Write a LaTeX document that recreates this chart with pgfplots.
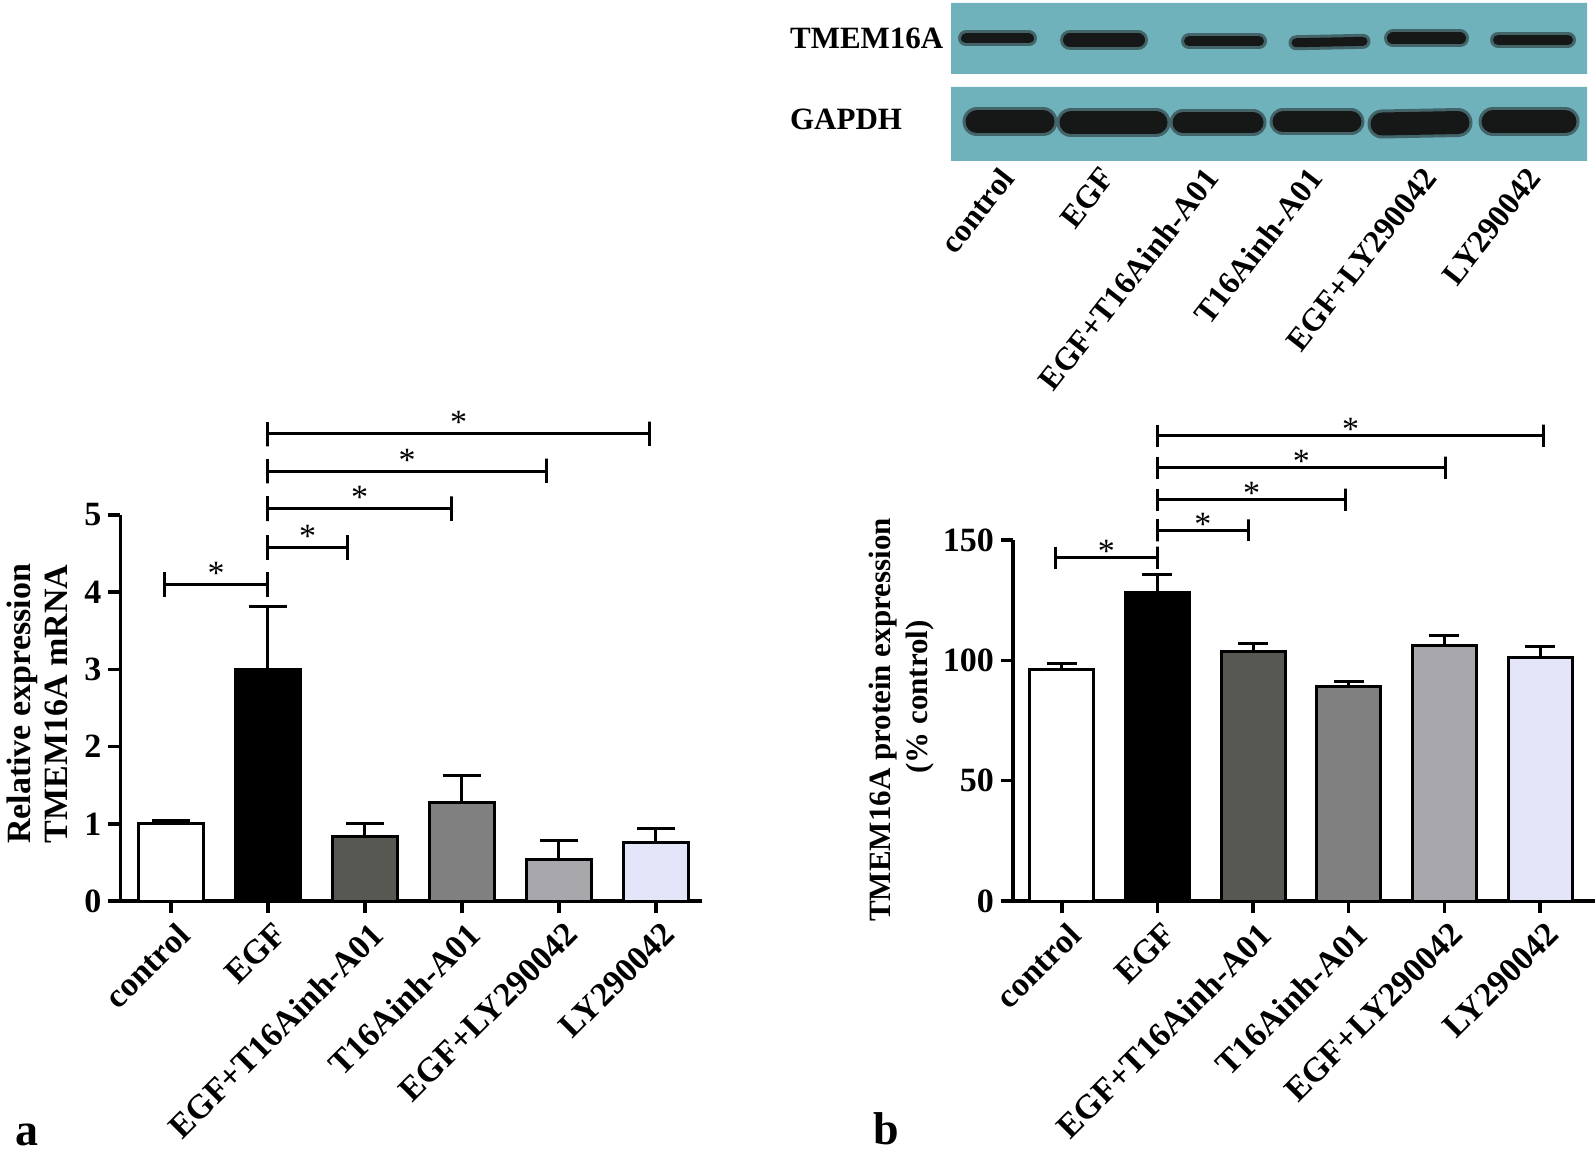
\documentclass[border=0pt]{standalone}
\usepackage{fontspec}
\setmainfont{Liberation Serif}
\usepackage{pgfplots}
\pgfplotsset{compat=1.18}
\usepackage{pgfplotstable}

\definecolor{cA}{RGB}{255,255,255}
\definecolor{cB}{RGB}{0,0,0}
\definecolor{cC}{RGB}{88,88,82}
\definecolor{cD}{RGB}{128,128,128}
\definecolor{cE}{RGB}{168,168,172}
\definecolor{cF}{RGB}{228,228,248}
\definecolor{blot}{RGB}{112,178,188}
\definecolor{band}{RGB}{22,24,24}

% panel a: x, mean, upper error
\pgfplotstableread{
x y e
0 1.01 0.03
1 3.00 0.81
2 0.84 0.17
3 1.27 0.35
4 0.54 0.24
5 0.76 0.18
}\dataA
% panel b
\pgfplotstableread{
x y e
0 96.0 2.5
1 128.3 7.2
2 103.7 3.3
3 89.2 2.1
4 106.0 4.3
5 101.3 4.4
}\dataB

\tikzset{ast/.style={anchor=base, font=\fontsize{17}{17}\selectfont, inner sep=0pt}}
\pgfplotsset{
  barpanel/.style={
    scale only axis, axis lines*=left,
    axis line style={line width=1.75pt, -},
    tick style={line width=1.75pt, black}, tick align=outside,
    major tick length=6pt,
    xtick={0,...,5},
    xticklabels={control,EGF,EGF+T16Ainh-A01,T16Ainh-A01,EGF+LY290042,LY290042},
    x tick label style={rotate=45, anchor=north east, font=\fontsize{17}{17}\selectfont\bfseries, inner sep=1pt, yshift=-3pt},
    y tick label style={font=\fontsize{17}{17}\selectfont\bfseries},
    /pgf/number format/assume math mode=true,
    clip=false,
  },
  brk/.style={sharp plot, line width=1.5pt, black, mark=none},
  abar/.style={ybar, bar width=32.5pt, bar shift=0pt, draw=black, line width=1.5pt,
    error bars/y dir=plus, error bars/y explicit,
    error bars/error bar style={line width=1.5pt, black},
    error bars/error mark options={line width=1.5pt, black, mark size=9.5pt, rotate=90}},
  bbar/.style={ybar, bar width=32pt, bar shift=0pt, draw=black, line width=1.5pt,
    error bars/y dir=plus, error bars/y explicit,
    error bars/error bar style={line width=1.5pt, black},
    error bars/error mark options={line width=1.5pt, black, mark size=7.5pt, rotate=90}},
}

\begin{document}
\begin{tikzpicture}
\useasboundingbox (0,0) rectangle (797.5pt,576.5pt);

% ---------------- panel a ----------------
\begin{axis}[barpanel, at={(60.25pt,126pt)}, anchor=south west,
  width=290.5pt, height=193pt, xmin=-0.52, xmax=5.47, ymin=0, ymax=5,
  ytick={0,1,2,3,4,5}]
\addplot[abar, fill=cA] table[x=x, y=y, y error=e, restrict expr to domain={\thisrow{x}}{0:0}] {\dataA};
\addplot[abar, fill=cB] table[x=x, y=y, y error=e, restrict expr to domain={\thisrow{x}}{1:1}] {\dataA};
\addplot[abar, fill=cC] table[x=x, y=y, y error=e, restrict expr to domain={\thisrow{x}}{2:2}] {\dataA};
\addplot[abar, fill=cD] table[x=x, y=y, y error=e, restrict expr to domain={\thisrow{x}}{3:3}] {\dataA};
\addplot[abar, fill=cE] table[x=x, y=y, y error=e, restrict expr to domain={\thisrow{x}}{4:4}] {\dataA};
\addplot[abar, fill=cF] table[x=x, y=y, y error=e, restrict expr to domain={\thisrow{x}}{5:5}] {\dataA};
% x axis stub left of the y axis
\addplot[sharp plot, line width=1.75pt, black] coordinates {(-0.62,0) (-0.52,0)};
% significance brackets
\addplot[brk] coordinates {(-0.07,4.26) (-0.07,3.94) (-0.07,4.10) (1,4.10) (1,4.26) (1,3.94)};
\addplot[brk] coordinates {(1,4.74) (1,4.42) (1,4.58) (1.82,4.58) (1.82,4.74) (1.82,4.42)};
\addplot[brk] coordinates {(1,5.24) (1,4.92) (1,5.08) (2.89,5.08) (2.89,5.24) (2.89,4.92)};
\addplot[brk] coordinates {(1,5.73) (1,5.41) (1,5.57) (3.87,5.57) (3.87,5.73) (3.87,5.41)};
\addplot[brk] coordinates {(1,6.21) (1,5.89) (1,6.05) (4.93,6.05) (4.93,6.21) (4.93,5.89)};
\node[ast] at (axis cs:0.465,4.10) {*};
\node[ast] at (axis cs:1.41,4.58) {*};
\node[ast] at (axis cs:1.945,5.08) {*};
\node[ast] at (axis cs:2.435,5.57) {*};
\node[ast] at (axis cs:2.965,6.05) {*};
\end{axis}

% ---------------- panel b ----------------
\begin{axis}[barpanel, at={(506.5pt,126pt)}, anchor=south west,
  width=291pt, height=180.5pt, xmin=-0.51, xmax=5.575, ymin=0, ymax=150,
  ytick={0,50,100,150}]
\addplot[bbar, fill=cA] table[x=x, y=y, y error=e, restrict expr to domain={\thisrow{x}}{0:0}] {\dataB};
\addplot[bbar, fill=cB] table[x=x, y=y, y error=e, restrict expr to domain={\thisrow{x}}{1:1}] {\dataB};
\addplot[bbar, fill=cC] table[x=x, y=y, y error=e, restrict expr to domain={\thisrow{x}}{2:2}] {\dataB};
\addplot[bbar, fill=cD] table[x=x, y=y, y error=e, restrict expr to domain={\thisrow{x}}{3:3}] {\dataB};
\addplot[bbar, fill=cE] table[x=x, y=y, y error=e, restrict expr to domain={\thisrow{x}}{4:4}] {\dataB};
\addplot[bbar, fill=cF] table[x=x, y=y, y error=e, restrict expr to domain={\thisrow{x}}{5:5}] {\dataB};
\addplot[sharp plot, line width=1.75pt, black] coordinates {(-0.61,0) (-0.51,0)};
\addplot[brk] coordinates {(-0.07,147.2) (-0.07,138.0) (-0.07,142.6) (1,142.6) (1,147.2) (1,138.0)};
\addplot[brk] coordinates {(1,158.6) (1,149.4) (1,154.0) (1.95,154.0) (1.95,158.6) (1.95,149.4)};
\addplot[brk] coordinates {(1,171.3) (1,162.1) (1,166.7) (2.97,166.7) (2.97,171.3) (2.97,162.1)};
\addplot[brk] coordinates {(1,184.6) (1,175.4) (1,180.0) (4.01,180.0) (4.01,184.6) (4.01,175.4)};
\addplot[brk] coordinates {(1,197.9) (1,188.7) (1,193.3) (5.04,193.3) (5.04,197.9) (5.04,188.7)};
\node[ast, yshift=-2.5pt] at (axis cs:0.465,142.6) {*};
\node[ast, yshift=-2.5pt] at (axis cs:1.475,154.0) {*};
\node[ast, yshift=-2.5pt] at (axis cs:1.985,166.7) {*};
\node[ast, yshift=-2.5pt] at (axis cs:2.505,180.0) {*};
\node[ast, yshift=-2.5pt] at (axis cs:3.02,193.3) {*};
\end{axis}

% ---------------- western blot (TMEM16A) ----------------
\begin{axis}[at={(475.5pt,539.5pt)}, anchor=south west, scale only axis,
  width=318pt, height=35.5pt, xmin=951, xmax=1587, ymin=0, ymax=1,
  axis lines=none, ticks=none, clip=false]
\addplot[fill=blot, draw=none] coordinates {(951,0) (1587,0) (1587,1) (951,1)} \closedcycle;
\addplot[band!50!blot, line width=8pt, line cap=round] coordinates {(966,0.5) (1029,0.5)};
\addplot[band, line width=5pt, line cap=round] coordinates {(966,0.5) (1029,0.5)};
\addplot[band!50!blot, line width=10pt, line cap=round] coordinates {(1070,0.48) (1138,0.48)};
\addplot[band, line width=7pt, line cap=round] coordinates {(1070,0.48) (1138,0.48)};
\addplot[band!50!blot, line width=8pt, line cap=round] coordinates {(1189,0.46) (1259,0.46)};
\addplot[band, line width=5pt, line cap=round] coordinates {(1189,0.46) (1259,0.46)};
\addplot[band!50!blot, line width=7.5pt, line cap=round] coordinates {(1296,0.44) (1363,0.46)};
\addplot[band, line width=4.5pt, line cap=round] coordinates {(1296,0.44) (1363,0.46)};
\addplot[band!50!blot, line width=9pt, line cap=round] coordinates {(1393,0.5) (1460,0.5)};
\addplot[band, line width=6pt, line cap=round] coordinates {(1393,0.5) (1460,0.5)};
\addplot[band!50!blot, line width=8pt, line cap=round] coordinates {(1498,0.48) (1568,0.48)};
\addplot[band, line width=5pt, line cap=round] coordinates {(1498,0.48) (1568,0.48)};
\end{axis}

% ---------------- western blot (GAPDH) ----------------
\begin{axis}[at={(475.5pt,496pt)}, anchor=south west, scale only axis,
  width=318pt, height=37pt, xmin=951, xmax=1587, ymin=0, ymax=1,
  axis lines=none, ticks=none, clip=false]
\addplot[fill=blot, draw=none] coordinates {(951,0) (1587,0) (1587,1) (951,1)} \closedcycle;
\addplot[band!50!blot, line width=14.5pt, line cap=round] coordinates {(977,0.53) (1043,0.53)};
\addplot[band, line width=11.5pt, line cap=round] coordinates {(977,0.53) (1043,0.53)};
\addplot[band!50!blot, line width=14.5pt, line cap=round] coordinates {(1071,0.52) (1156,0.52)};
\addplot[band, line width=11.5pt, line cap=round] coordinates {(1071,0.52) (1156,0.52)};
\addplot[band!50!blot, line width=13.5pt, line cap=round] coordinates {(1183,0.52) (1253,0.52)};
\addplot[band, line width=10.5pt, line cap=round] coordinates {(1183,0.52) (1253,0.52)};
\addplot[band!50!blot, line width=13.5pt, line cap=round] coordinates {(1283,0.53) (1351,0.53)};
\addplot[band, line width=10.5pt, line cap=round] coordinates {(1283,0.53) (1351,0.53)};
\addplot[band!50!blot, line width=14.5pt, line cap=round] coordinates {(1382,0.5) (1458,0.52)};
\addplot[band, line width=11.5pt, line cap=round] coordinates {(1382,0.5) (1458,0.52)};
\addplot[band!50!blot, line width=14.5pt, line cap=round] coordinates {(1493,0.53) (1565,0.53)};
\addplot[band, line width=11.5pt, line cap=round] coordinates {(1493,0.53) (1565,0.53)};
\end{axis}

% blot labels
\node[anchor=west, font=\fontsize{15.5}{15.5}\selectfont\bfseries] at (391.5pt,557.5pt) {TMEM16A};
\node[anchor=west, font=\fontsize{15.5}{15.5}\selectfont\bfseries] at (391.5pt,517pt) {GAPDH};
\begin{scope}[every node/.style={rotate=52, anchor=north east, inner sep=0pt, font=\fontsize{16}{16}\selectfont\bfseries}]
\node at (499pt,494pt) {control};
\node at (549.5pt,494pt) {EGF};
\node at (601.5pt,494pt) {EGF+T16Ainh-A01};
\node at (653.5pt,494pt) {T16Ainh-A01};
\node at (710.5pt,494pt) {EGF+LY290042};
\node at (762.5pt,494pt) {LY290042};
\end{scope}

% axis titles
\node[rotate=90, font=\fontsize{17}{17}\selectfont\bfseries] at (11.2pt,224.5pt) {Relative expression};
\node[rotate=90, font=\fontsize{17}{17}\selectfont\bfseries] at (28pt,224.5pt) {TMEM16A mRNA};
\node[rotate=90, font=\fontsize{15.5}{15.5}\selectfont\bfseries] at (441.5pt,216.5pt) {TMEM16A protein expression};
\node[rotate=90, font=\fontsize{15.5}{15.5}\selectfont\bfseries] at (460pt,228pt) {(\% control)};

% panel letters
\node[anchor=base west, inner sep=0pt, font=\fontsize{23}{23}\selectfont\bfseries] at (7.5pt,4pt) {a};
\node[anchor=base west, inner sep=0pt, font=\fontsize{23}{23}\selectfont\bfseries] at (436.5pt,4.5pt) {b};
\end{tikzpicture}
\end{document}
